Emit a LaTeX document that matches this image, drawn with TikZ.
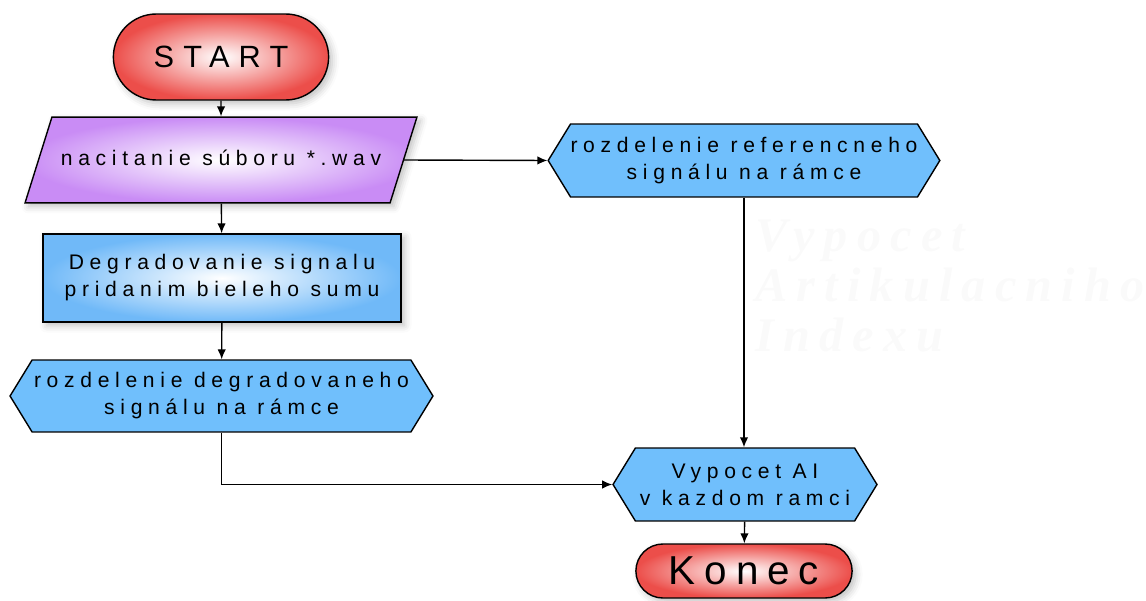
\documentclass[tikz,border=0pt]{standalone}
\usepackage{fontspec}
\setmainfont{Liberation Sans}
\newfontfamily\wmfont{Liberation Serif}
\usepackage{tikz}
\usetikzlibrary{shapes.misc, shapes.geometric, shapes.symbols, shadows.blur, arrows.meta}

\definecolor{termred}{RGB}{236,78,74}
\definecolor{iopurple}{RGB}{201,140,245}
\definecolor{procblue}{RGB}{112,185,248}
\definecolor{prepblue}{RGB}{112,191,252}

\begin{document}
\begin{tikzpicture}[x=0.02cm, y=-0.02cm, >={Latex[length=2mm, width=1.7mm]},
		txt/.style={align=center, inner sep=0pt, font=\fontsize{12}{15.4}\addfontfeature{LetterSpace=27}},
		soft/.style={blur shadow={shadow xshift=2pt, shadow yshift=-2pt, shadow blur radius=4pt, shadow opacity=25}},
		terminal/.style={draw, line width=0.8pt, rounded rectangle, inner color=white, outer color=termred, soft},
		iobox/.style={txt, draw, line width=0.8pt, trapezium, trapezium left angle=72.6, trapezium right angle=107.4, trapezium stretches body, text height=9pt, text depth=3pt, inner ysep=0.648cm, inner color=white, outer color=iopurple, soft},
		procbox/.style={txt, draw, line width=0.8pt, rectangle, inner color=white, outer color=procblue, soft},
		prepbox/.style={txt, draw, line width=0.8pt, signal, signal to=west and east, signal pointer angle=117, fill=prepblue},
		link/.style={->, line width=0.8pt}]
		\useasboundingbox (0,0) rectangle (1146,601);
		\node (wm) at (755,286) [anchor=west, align=left, inner sep=0pt, text=black!2, font=\wmfont\bfseries\itshape\fontsize{27.5}{28.5}\addfontfeature{LetterSpace=19}] {Vypocet\\Artikulacniho\\Indexu};
		\node (start) at (221,57) [terminal, minimum width=4.54cm, minimum height=1.72cm, font=\fontsize{17.5}{20}\addfontfeature{LetterSpace=30}] {START};
		\node (io) at (221,160) [iobox, minimum width=7.84cm] {nacitanie súboru *.wav};
		\node (noise) at (222,278) [procbox, minimum width=7.16cm, minimum height=1.76cm] {Degradovanie signalu\\pridanim bieleho sumu};
		\node (degsplit) at (221.5,396) [prepbox, minimum width=8.46cm, minimum height=1.44cm] {rozdelenie degradovaneho\\signálu na rámce};
		\node (refsplit) at (744,160.5) [prepbox, minimum width=7.76cm, minimum height=1.46cm] {rozdelenie referencneho\\signálu na rámce};
		\node (ai) at (745,484.5) [prepbox, minimum width=5.28cm, minimum height=1.46cm] {Vypocet AI\\v kazdom ramci};
		\node (konec) at (744,571) [terminal, minimum width=4.56cm, minimum height=1.08cm, font=\fontsize{23}{26}\addfontfeature{LetterSpace=22}] {Konec};
		\draw[link] (start) -- (io);
		\draw[link] (io) -- (noise);
		\draw[link] (noise) -- (degsplit);
		\draw[link] (io.east) -- (refsplit.west);
		\draw[link] (refsplit.south) -- (refsplit.south |- ai.north);
		\draw[link] (degsplit.south) |- (ai.west);
		\draw[link] (ai) -- (konec);
	\end{tikzpicture}
\end{document}
